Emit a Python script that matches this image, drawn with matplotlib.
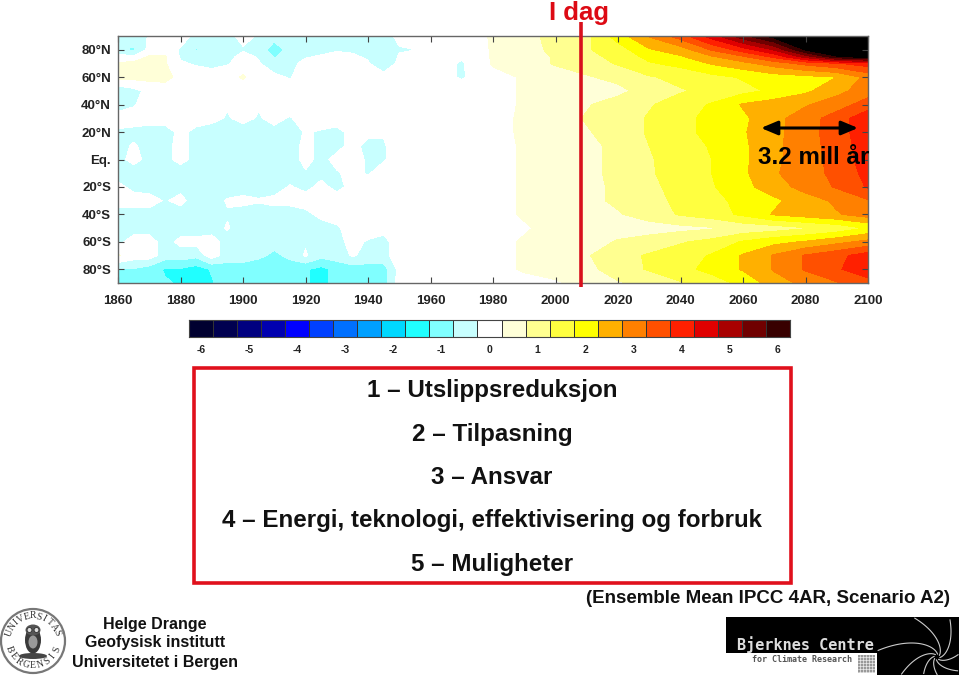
import numpy as np
import matplotlib
matplotlib.use('Agg')
import matplotlib.pyplot as plt
from matplotlib.colors import ListedColormap, BoundaryNorm
from matplotlib.patches import Rectangle, Circle, Ellipse

plt.rcParams['font.family'] = ['Liberation Sans', 'DejaVu Sans']
plt.rcParams['font.weight'] = 'bold'

years = [1860, 1865, 1870, 1875, 1880, 1885, 1890, 1895, 1900, 1905, 1910, 1915, 1920,
         1925, 1930, 1935, 1940, 1945, 1950, 1960, 1970, 1980, 1990, 2000, 2010, 2020,
         2030, 2040, 2050, 2060, 2070, 2080, 2090, 2100]
lats = [90, 80, 75, 70, 60, 50, 40, 30, 20, 10, 0, -10, -20, -30, -40, -50, -60, -70, -80, -90]

# temperature change by latitude
t_90n = [-.4, -.6, -.2, -.1, 0, -.4, -.4, -.4, -.1, -.3, -.5, -.3, -.3, -.3, -.3, -.3, -.3, -.5, -.1, -.1, 0,
         .3, .6, .9, 1.1, 2.0, 2.8, 3.5, 4.5, 5.6, 6.5, 7.0, 7.5, 7.5]
t_80n = [-.7, -.8, -.1, 0, -.3, -.8, -.5, -.5, -.3, -.4, -1.1, -.5, -.4, -.4, -.3, -.3, -.3, -.6, -.3, -.2, -.1,
         .3, .5, .9, 1.2, 1.5, 2.2, 2.5, 3.3, 4.0, 4.8, 6.3, 6.8, 7.0]
t_75n = [0, -.2, .3, .3, -.3, -.5, -.5, -.4, -.1, -.3, -.8, -.5, -.3, -.2, -.1, -.2, -.3, -.7, -.2, -.1, -.2,
         .3, .5, .8, 1.1, 1.4, 1.9, 2.2, 2.7, 3.2, 3.9, 5.0, 6.2, 6.6]
t_70n = [.3, .4, .4, .3, -.2, -.3, -.4, -.3, 0, -.2, -.6, -.4, -.1, 0, .2, -.1, -.2, -.7, -.1, 0, -.3,
         .3, .5, .8, 1.0, 1.3, 1.7, 1.9, 2.3, 2.6, 3.0, 3.4, 3.7, 4.0]
t_60n = [.4, .4, .4, .4, .1, 0, 0, .1, .3, 0, -.1, -.3, .1, 0, .1, 0, .2, 0, .2, 0, -.3,
         .1, .3, .5, .7, .9, 1.2, 1.4, 1.6, 1.8, 2.0, 2.1, 2.25, 2.9]
t_50n = [-.6, -.4, -.1, 0, 0, 0, 0, 0, 0, 0, 0, 0, 0, 0, 0, 0, 0, 0, 0, 0, 0,
         .1, .3, .4, .6, .6, 1.0, 1.2, 1.4, 1.6, 1.85, 2.15, 2.6, 3.0]
t_40n = [-.4, -.3, 0, 0, 0, 0, 0, -.2, 0, -.2, 0, 0, 0, 0, 0, 0, 0, 0, 0, 0, 0,
         .1, .3, .5, .7, 1.0, 1.2, 1.5, 1.8, 2.3, 2.5, 2.7, 3.0, 3.5]
t_30n = [-.1, 0, 0, 0, 0, 0, -.1, -.3, -.1, -.3, -.1, -.3, 0, 0, 0, 0, 0, 0, 0, 0, 0,
         .15, .3, .5, .8, 1.0, 1.3, 1.6, 1.9, 2.15, 2.6, 3.0, 3.5, 4.1]
t_20n = [-.3, -.4, -.5, -.5, -.1, -.4, -.5, -.5, -.5, -.5, -.4, -.5, -.2, -.3, -.4, -.1, -.1, -.2, 0, 0, 0,
         .15, .3, .5, .7, 1.0, 1.3, 1.6, 1.9, 2.2, 2.6, 3.05, 3.5, 4.1]
t_10n = [-.4, -.2, -.4, -.4, -.1, -.4, -.5, -.5, -.5, -.5, -.5, -.5, -.1, -.4, -.4, -.1, -.4, -.3, 0, 0, 0,
         .1, .3, .5, .6, .9, 1.25, 1.5, 1.8, 2.15, 2.65, 3.0, 3.5, 4.0]
t_eq = [-.4, -.1, -.4, -.4, -.1, -.4, -.5, -.5, -.5, -.5, -.5, -.5, -.1, -.4, -.1, -.1, -.3, -.3, 0, 0, 0,
        .1, .3, .5, .6, .9, 1.2, 1.5, 1.75, 2.15, 2.65, 3.0, 3.45, 4.0]
t_10s = [-.5, -.5, -.7, -.5, -.5, -.5, -.5, -.5, -.5, -.5, -.5, -.5, -.3, -.4, -.3, -.1, -.3, 0, 0, 0, 0,
         .1, .3, .5, .6, .9, 1.2, 1.45, 1.75, 2.15, 2.7, 3.0, 3.4, 3.9]
t_20s = [-.1, -.4, -.5, -.4, -.4, -.5, -.5, -.5, -.5, -.5, -.5, -.2, -.4, -.1, -.4, -.1, 0, 0, 0, 0, 0,
         .1, .3, .5, .6, .85, 1.15, 1.4, 1.7, 2.1, 2.5, 2.95, 3.3, 3.8]
t_30s = [0, 0, 0, -.3, -.1, -.5, -.5, -.2, -.1, -.2, -.1, -.1, 0, 0, 0, 0, 0, 0, 0, 0, 0,
         .1, .3, .5, .6, .85, 1.1, 1.35, 1.6, 1.9, 2.15, 2.5, 2.85, 3.2]
t_40s = [-.5, -.5, -.5, -.5, -.5, -.5, -.5, -.3, -.5, -.5, -.5, -.5, -.4, -.1, -.1, 0, 0, 0, 0, 0, 0,
         .1, .3, .4, .5, .7, 1.0, 1.3, 1.5, 1.85, 2.3, 2.5, 2.7, 3.0]
t_50s = [-.5, -.5, -.5, -.5, -.5, -.5, -.5, -.2, -.5, -.5, -.5, -.5, -.3, -.5, -.3, -.1, 0, -.1, 0, 0, 0,
         .1, .2, .4, .4, .5, .5, .6, .7, .9, 1.0, 1.2, 1.4, 1.8]
t_60s = [-.4, 0, 0, -.5, -.1, -.1, 0, -.5, -.5, -.5, -.5, -.5, -.3, -.5, -.4, -.1, -.3, -.4, 0, 0, 0,
         .1, .3, .4, .5, .8, 1.0, 1.2, 1.4, 1.8, 2.1, 2.3, 2.6, 2.9]
t_70s = [.3, 0, 0, -.5, -.5, -.6, 0, -.5, -.5, -.6, -.9, -.6, -.2, -.6, -.5, -.2, -.4, -.4, 0, 0, -.1,
         .1, .3, .5, .7, 1.1, 1.3, 1.5, 1.8, 2.3, 2.8, 3.3, 3.6, 4.0]
t_80s = [-.8, -.8, -1.0, -1.3, -1.3, -1.5, -1.2, -1.0, -1.0, -1.2, -1.2, -1.1, -1.2, -1.4, -1.1, -1.0, -1.0, -1.0, -.1, -.2, -.2,
         .1, .3, .4, .6, 1.0, 1.3, 1.6, 1.9, 2.3, 2.8, 3.3, 3.7, 4.0]
t_90s = [-.9, -1.0, -1.0, -1.2, -1.3, -1.5, -1.3, -1.0, -1.1, -1.2, -1.2, -1.1, -1.2, -1.4, -1.1, -1.0, -1.0, -1.0, 0, 0, -.2,
         0, .1, .2, .4, .7, .9, 1.2, 1.5, 1.9, 2.5, 2.9, 3.2, 3.6]

lat_ticks = [80, 60, 40, 20, 0, -20, -40, -60, -80]
lat_labels = ['80°N', '60°N', '40°N', '20°N', 'Eq.', '20°S', '40°S', '60°S', '80°S']
year_ticks = [1860, 1880, 1900, 1920, 1940, 1960, 1980, 2000, 2020, 2040, 2060, 2080, 2100]

cbar_colors = ['#000030', '#000050', '#000080', '#0000b0', '#0000ff', '#0040ff', '#0070ff', '#00a0ff',
               '#00d8ff', '#20ffff', '#80ffff', '#c8ffff', '#ffffff', '#ffffd8', '#ffff90', '#ffff40',
               '#ffff00', '#ffb000', '#ff8000', '#ff5000', '#ff2000', '#e00000', '#a80000', '#700000', '#380000']
cbar_ticks = [-6, -5, -4, -3, -2, -1, 0, 1, 2, 3, 4, 5, 6]

headings = ['1 – Utslippsreduksjon', '2 – Tilpasning', '3 – Ansvar',
            '4 – Energi, teknologi, effektivisering og forbruk', '5 – Muligheter']

W, H = 960, 675


def box(x0, y0, x1, y1):
    return [x0 / W, 1 - y1 / H, (x1 - x0) / W, (y1 - y0) / H]


temps = np.array([t_90n, t_80n, t_75n, t_70n, t_60n, t_50n, t_40n, t_30n, t_20n, t_10n, t_eq, t_10s,
                  t_20s, t_30s, t_40s, t_50s, t_60s, t_70s, t_80s, t_90s])
levels = np.arange(-6.25, 6.5, 0.5)
cmap = ListedColormap(cbar_colors)
cmap.set_over('black')
cmap.set_under('black')
norm = BoundaryNorm(levels, cmap.N)

fig = plt.figure(figsize=(9.6, 6.75), dpi=100, facecolor='white')

# main panel
ax = fig.add_axes(box(118, 36, 868, 283))
ax.contourf(years, lats, temps, levels=levels, cmap=cmap, norm=norm, extend='both')
ax.set_xlim(1860, 2100)
ax.set_ylim(-90, 90)
ax.set_xticks(year_ticks)
ax.set_yticks(lat_ticks)
ax.set_yticklabels(lat_labels)
ax.tick_params(direction='in', top=True, right=True, length=4, width=0.8, color='#444444',
               labelsize=9.5, labelcolor='#222222')
ax.tick_params(axis='x', pad=9)
ax.tick_params(axis='y', pad=5)
for s in ax.spines.values():
    s.set_color('#666666')
    s.set_linewidth(1)

# colour bar
cax = fig.add_axes(box(189, 320, 790, 337))
edges = np.arange(len(cbar_colors) + 1)
cax.pcolormesh(edges, [0, 1], np.arange(len(cbar_colors)).reshape(1, -1), cmap=ListedColormap(cbar_colors),
               edgecolors='#333333', linewidth=0.5)
cax.set_xticks([(v + 6) * 2 + 0.5 for v in cbar_ticks])
cax.set_xticklabels([str(v) for v in cbar_ticks])
cax.set_yticks([])
cax.tick_params(length=0, labelsize=7.5, labelcolor='#222222', pad=6)
for s in cax.spines.values():
    s.set_color('#444444')
    s.set_linewidth(0.8)

# overlay in pixel coordinates
ov = fig.add_axes([0, 0, 1, 1], facecolor='none')
ov.set_xlim(0, W)
ov.set_ylim(H, 0)
ov.axis('off')

ov.text(579, 13, 'I dag', color='#dd0a14', fontsize=18.5, ha='center', va='center')
ov.plot([580.5, 580.5], [22, 287], color='#d8101c', lw=2.6, solid_capstyle='butt')
ov.annotate('', xy=(858, 128), xytext=(761, 128),
            arrowprops=dict(arrowstyle='<|-|>,head_width=0.42,head_length=1.0', color='black', lw=2.2,
                            shrinkA=0, shrinkB=0))
ov.text(758, 158, '3.2 mill år', color='black', fontsize=17.4, ha='left', va='center')

ov.add_patch(Rectangle((193.5, 368), 597, 215, fill=False, ec='#e0101c', lw=2.6))
for txt, y in zip(headings, [390, 434, 477, 521, 564]):
    ov.text(492, y, txt, fontsize=17.4, ha='center', va='center', color='#111111')

ov.text(950, 598.5, '(Ensemble Mean IPCC 4AR, Scenario A2)', fontsize=13.5, ha='right', va='center', color='#111111')
for txt, y in zip(['Helge Drange', 'Geofysisk institutt', 'Universitetet i Bergen'], [624, 643, 662]):
    ov.text(155, y, txt, fontsize=11.5, ha='center', va='center', color='#111111')

# university seal
cx, cy = 33, 641
ov.add_patch(Circle((cx, cy), 32, fill=False, ec='#777777', lw=1.6))
top = 'UNIVERSITAS'
for i, ch in enumerate(top):
    a = np.radians(160 - i * 14)
    ov.text(cx + 25 * np.cos(a), cy - 25 * np.sin(a), ch, fontsize=7, fontweight='normal', color='#333333',
            family='Liberation Serif', rotation=np.degrees(a) - 90, ha='center', va='center')
bottom = 'BERGENSIS'
for i, ch in enumerate(bottom):
    a = np.radians(200 + i * 17.5)
    ov.text(cx + 25 * np.cos(a), cy - 25 * np.sin(a), ch, fontsize=7, fontweight='normal', color='#333333',
            family='Liberation Serif', rotation=np.degrees(a) + 90, ha='center', va='center')
ov.add_patch(Ellipse((cx, cy - 1), 16, 27, fc='#3a3a3a', ec='none'))
ov.add_patch(Ellipse((cx, cy - 11), 15, 11, fc='#555555', ec='none'))
ov.add_patch(Circle((cx - 3.5, cy - 11), 2.4, fc='#dddddd', ec='#222222', lw=0.5))
ov.add_patch(Circle((cx + 3.5, cy - 11), 2.4, fc='#dddddd', ec='#222222', lw=0.5))
ov.add_patch(Ellipse((cx, cy + 1), 9, 13, fc='#999999', ec='none'))
ov.add_patch(Ellipse((cx, cy + 15), 28, 6, fc='#444444', ec='none'))

# Bjerknes logo
ov.add_patch(Rectangle((726, 617), 233, 36, fc='black', ec='none'))
ov.add_patch(Rectangle((877, 617), 82, 58, fc='black', ec='none'))
ov.text(737, 645, 'Bjerknes Centre', family='DejaVu Sans Mono', fontsize=11, color='#dddddd',
        ha='left', va='center', fontweight='bold')
ov.text(752, 659, 'for Climate Research', family='DejaVu Sans Mono', fontsize=6, color='#555555',
        ha='left', va='center')
ov.add_patch(Rectangle((858, 655), 17, 18, fc='#999999', ec='none'))
for x in range(860, 875, 3):
    ov.plot([x, x], [655, 673], color='white', lw=0.4)
for y in range(657, 673, 3):
    ov.plot([858, 875], [y, y], color='white', lw=0.4)

sx, sy = 937, 657
r = np.linspace(3, 110, 60)
for start in np.radians([0, 45, 90, 135, 180, 225, 270, 315]):
    th = start + 0.55 * np.log(r)
    xs = sx + r * np.cos(th)
    ys = sy - r * np.sin(th)
    keep = (xs > 878) & (xs < 959) & (ys > 618) & (ys < 675)
    ov.plot(np.where(keep, xs, np.nan), np.where(keep, ys, np.nan), color='#cccccc', lw=0.8)

fig.savefig('out.png', dpi=100)
